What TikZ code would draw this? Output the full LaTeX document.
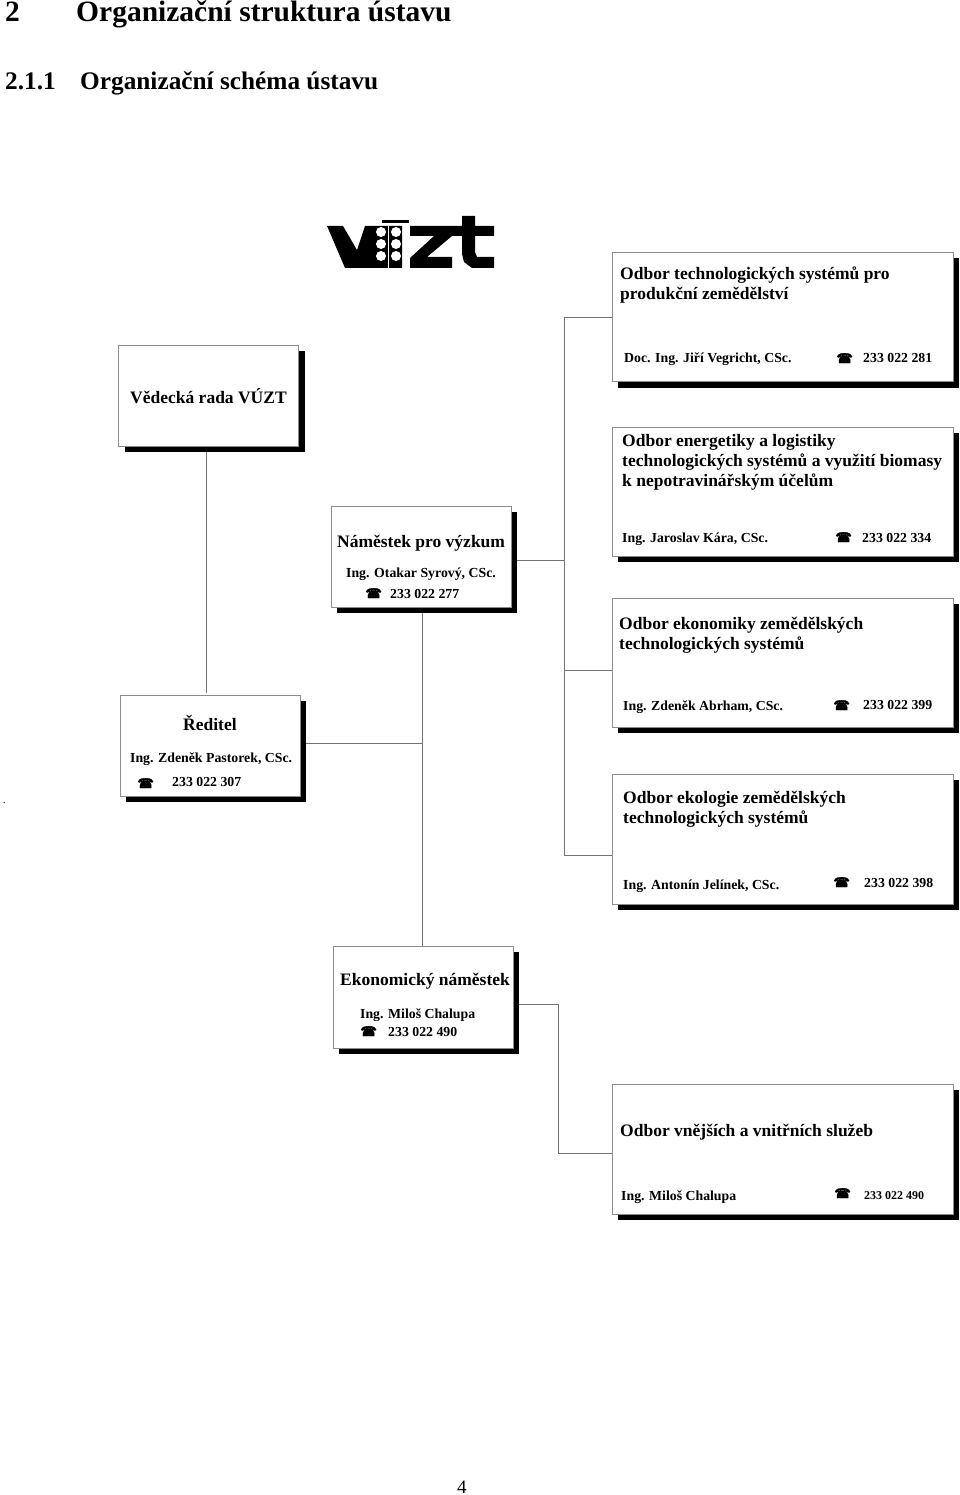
\documentclass[tikz,border=0pt]{standalone}
\usepackage{fontspec}
\setmainfont{Liberation Serif}
\newfontfamily\phonefont[FakeBold=2]{DejaVu Sans}
\usepackage{xcolor}
\usetikzlibrary{positioning, shadows}
\newcommand{\phonesign}{{\phonefont\fontsize{13.5}{13.5}\selectfont ☎}}

\begin{document}
\begin{tikzpicture}[
  x=1pt, y=-1pt,
  box/.style={rectangle, draw=black!45, line width=1pt, fill=white, inner sep=0pt, outer sep=0pt,
    drop shadow={shadow xshift=6pt, shadow yshift=-6pt, fill=black, opacity=1}},
  smallbox/.style={box, minimum width=180pt, minimum height=101pt},
  widebox/.style={box, minimum width=341pt, minimum height=129pt},
  link/.style={draw=black!55, line width=0.9pt},
  pagetitle/.style={anchor=base west, inner sep=0pt, font=\bfseries\fontsize{29.5}{29.5}\selectfont},
  sectitle/.style={anchor=base west, inner sep=0pt, font=\bfseries\fontsize{25.3}{25.3}\selectfont},
  headtext/.style={anchor=base west, inner sep=0pt, align=left, font=\bfseries\fontsize{17.5}{20}\selectfont},
  persontext/.style={anchor=base west, inner sep=0pt, font=\bfseries\fontsize{13.8}{13.8}\selectfont},
  phoneicon/.style={anchor=base west, inner sep=0pt},
  logoink/.style={fill=black, draw=none}
]
\useasboundingbox (0,0) rectangle (960,1495);

\node[pagetitle] (chapter) at (5,22) {2};
\node[pagetitle] (chaptertext) at (76,22) {Organizační struktura ústavu};
\node[sectitle] (section) at (5,90) {2.1.1};
\node[sectitle] (sectiontext) at (80,90) {Organizační schéma ústavu};

% logo
\fill[logoink] (327,226) -- (343,226) -- (357,250) -- (365,226) -- (402,226) -- (402,268) -- (345,268) -- cycle;
\fill[logoink] (382,220) rectangle (409,223);
\fill[white] (388,226) rectangle (388.8,268);
\foreach \cx in {381,396}
  \foreach \cy in {232,244,256}
    \fill[white] (\cx,\cy) circle (5pt);
\fill[logoink] (410,226) -- (452,226) -- (452,236) -- (427,257) -- (452,257) -- (452,268) -- (410,268) -- (410,258) -- (434,236) -- (410,236) -- cycle;
\fill[logoink] (462,216) -- (475,216) -- (475,226) -- (494,226) -- (494,236) -- (475,236) -- (475,252) -- (477,257) -- (494,257) -- (494,268) -- (472,268) -- (464,262) -- (462,254) -- (462,236) -- (452,236) -- (452,226) -- (462,226) -- cycle;

% left column
\node[smallbox] (rada) at (208.5,395.5) {};
\node[smallbox] (namestek) at (421,556.5) {};
\node[smallbox] (reditel) at (210,745.5) {};
\node[smallbox, minimum height=102pt] (ekonom) at (423,997) {};

% right column
\node[widebox] (odbor1) at (782.5,317) {};
\node[widebox] (odbor2) at (782.5,491.5) {};
\node[widebox] (odbor3) at (782.5,662.5) {};
\node[widebox, minimum height=130pt] (odbor4) at (782.5,839) {};
\node[widebox, minimum height=130pt] (odbor5) at (782.5,1149) {};

\coordinate (radadrop) at (206,693);
\coordinate (trunk) at (422,743);
\coordinate (split) at (564,560);
\coordinate (splittop) at (564,317);
\coordinate (splitmid) at (564,670);
\coordinate (splitend) at (564,855);
\coordinate (turn) at (558,1004);
\coordinate (turnend) at (558,1153);

\draw[link, shorten <=6pt] (rada.south -| radadrop) -- (radadrop);
\draw[link, shorten <=6pt] (namestek.south -| trunk) -- (ekonom.north -| trunk);
\draw[link, shorten <=6pt] (reditel.east |- trunk) -- (trunk);
\draw[link, shorten <=6pt] (namestek.east |- split) -- (split);
\draw[link] (odbor1.west |- splittop) -- (splittop) -- (splitend) -- (odbor4.west |- splitend);
\draw[link] (splitmid) -- (odbor3.west |- splitmid);
\draw[link, shorten <=6pt] (ekonom.east |- turn) -- (turn) -- (turnend) -- (odbor5.west |- turnend);

% texts of the boxes
\node[headtext] (radatext) at (130,403) {Vědecká rada VÚZT};

\node[headtext] (namtext) at (337,547) {Náměstek pro výzkum};
\node[persontext] (namname) at (346,577) {Ing. Otakar Syrový, CSc.};
\node[phoneicon] (namicon) at (365,598) {\phonesign};
\node[persontext] (namtel) at (390,598) {233 022 277};

\node[headtext] (redtext) at (183,730) {Ředitel};
\node[persontext] (redname) at (130,762) {Ing. Zdeněk Pastorek, CSc.};
\node[phoneicon] (redicon) at (137,788) {\phonesign};
\node[persontext] (redtel) at (172,786) {233 022 307};

\node[headtext] (ekotext) at (340,985) {Ekonomický náměstek};
\node[persontext] (ekoname) at (360,1018) {Ing. Miloš Chalupa};
\node[phoneicon] (ekoicon) at (360,1036) {\phonesign};
\node[persontext] (ekotel) at (388,1036) {233 022 490};

\node[headtext] (o1text) at (620,300) {Odbor technologických systémů pro\\produkční zemědělství};
\node[persontext] (o1name) at (624,362) {Doc. Ing. Jiří Vegricht, CSc.};
\node[phoneicon] (o1icon) at (836,363) {\phonesign};
\node[persontext] (o1tel) at (863,362) {233 022 281};

\node[headtext] (o2text) at (622,486) {Odbor energetiky a logistiky\\technologických systémů a využití biomasy\\k nepotravinářským účelům};
\node[persontext] (o2name) at (622,542) {Ing. Jaroslav Kára, CSc.};
\node[phoneicon] (o2icon) at (835,542) {\phonesign};
\node[persontext] (o2tel) at (862,542) {233 022 334};

\node[headtext] (o3text) at (619,649) {Odbor ekonomiky zemědělských\\technologických systémů};
\node[persontext] (o3name) at (623,710) {Ing. Zdeněk Abrham, CSc.};
\node[phoneicon] (o3icon) at (833,710) {\phonesign};
\node[persontext] (o3tel) at (863,709) {233 022 399};

\node[headtext] (o4text) at (623,823) {Odbor ekologie zemědělských\\technologických systémů};
\node[persontext] (o4name) at (623,889) {Ing. Antonín Jelínek, CSc.};
\node[phoneicon] (o4icon) at (833,887) {\phonesign};
\node[persontext] (o4tel) at (864,887) {233 022 398};

\node[headtext] (o5text) at (620,1136) {Odbor vnějších a vnitřních služeb};
\node[persontext] (o5name) at (621,1200) {Ing. Miloš Chalupa};
\node[phoneicon] (o5icon) at (834,1198) {\phonesign};
\node[persontext, font=\bfseries\fontsize{12}{12}\selectfont] (o5tel) at (864,1199) {233 022 490};

\node[anchor=base west, inner sep=0pt, font=\fontsize{10}{10}\selectfont] (dot) at (3,803) {.};
\node[anchor=base west, inner sep=0pt, font=\fontsize{19}{19}\selectfont] (pageno) at (457,1493) {4};
\end{tikzpicture}
\end{document}
